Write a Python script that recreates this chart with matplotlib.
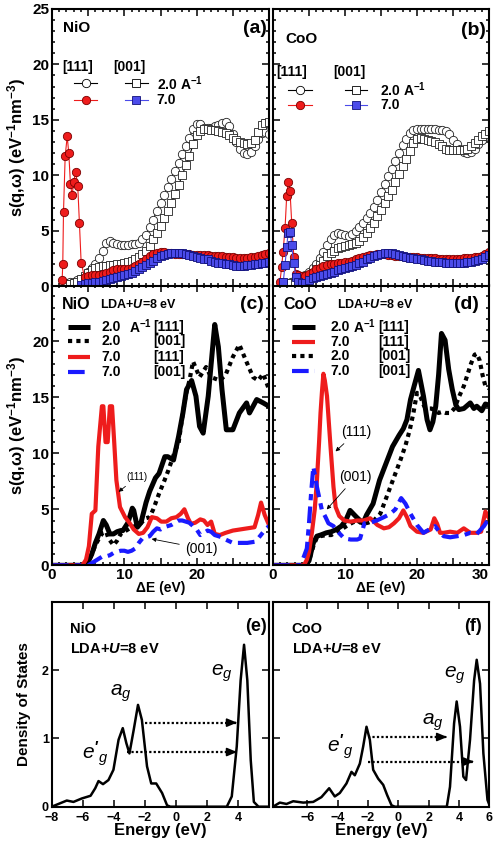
import numpy as np
import matplotlib
matplotlib.use("Agg")
import matplotlib.pyplot as plt
from matplotlib.ticker import MultipleLocator, FuncFormatter

plt.rcParams['font.family'] = ['Liberation Sans', 'DejaVu Sans']
plt.rcParams['font.weight'] = 'bold'
plt.rcParams['axes.labelweight'] = 'bold'
plt.rcParams['mathtext.fontset'] = 'custom'
plt.rcParams['mathtext.rm'] = 'Liberation Sans:bold'
plt.rcParams['mathtext.bf'] = 'Liberation Sans:bold'
plt.rcParams['mathtext.it'] = 'Liberation Sans:italic:normal'
plt.rcParams['mathtext.bfit'] = 'Liberation Sans:italic:bold'
plt.rcParams['axes.linewidth'] = 1.5

RED = '#ee1c1c'
BLUE = '#1a1aff'
MBLUE = '#4b4bea'

# ---------------------------------------------------
# measured spectra (eV, eV^-1 nm^-3)
# ---------------------------------------------------
nio_e2 = np.arange(1.5, 30.01, 0.5)
nio_111_q2 = [0.2, 0.3, 0.4, 0.4, 0.5, 0.6, 0.9, 1.3, 1.6, 2.0,
              2.5, 3.2, 3.9, 4.1, 3.9, 3.8, 3.7, 3.7, 3.7, 3.8,
              3.8, 3.9, 4.2, 4.6, 5.3, 6.0, 6.8, 7.5, 8.2, 8.9,
              9.7, 10.4, 11.1, 11.9, 12.6, 13.4, 14.2, 14.6, 14.6, 14.3,
              14.3, 14.3, 14.4, 14.5, 14.7, 14.8, 14.4, 13.7, 13.0, 12.4,
              12.0, 11.9, 12.1, 12.6, 13.3, 13.8, 13.9, 13.7]
nio_001_q2 = [0.1, 0.15, 0.2, 0.3, 0.4, 0.6, 0.9, 1.2, 1.4, 1.6,
              1.7, 1.8, 1.8, 1.9, 1.9, 2.0, 2.0, 2.1, 2.2, 2.3,
              2.4, 2.6, 2.9, 3.2, 3.6, 4.2, 4.8, 5.4, 6.1, 6.8,
              7.5, 8.3, 9.1, 10.0, 10.9, 11.7, 12.8, 13.6, 14.0, 14.2,
              14.2, 14.1, 14.1, 14.0, 13.9, 13.8, 13.6, 13.4, 13.2, 13.0,
              12.9, 12.8, 12.9, 13.2, 13.9, 14.5, 14.7, 14.8]
nio_111_q7_e = [1.4, 1.49, 1.59, 1.82, 2.1, 2.32, 2.55, 2.79, 3.0, 3.28,
                3.56, 3.79, 4.03] + list(np.arange(4.5, 30.01, 0.5))
nio_111_q7 = [0.5, 2.0, 6.7, 11.7, 13.5, 12.0, 9.2, 8.2, 9.4, 10.3,
              9.0, 5.7, 2.1,
              0.8, 0.9, 1.0, 1.0, 1.0, 1.1, 1.2, 1.3, 1.4, 1.5,
              1.5, 1.5, 1.5, 1.6, 1.8, 2.0, 2.2, 2.4, 2.7, 2.9,
              3.0, 3.1, 3.1, 3.0, 3.0, 2.9, 2.9, 2.9, 2.9, 2.9,
              2.8, 2.8, 2.8, 2.8, 2.8, 2.7, 2.7, 2.7, 2.7, 2.6,
              2.6, 2.6, 2.5, 2.5, 2.5, 2.5, 2.6, 2.6, 2.7, 2.8,
              2.9, 3.0]
nio_001_q7_e = np.arange(4.0, 30.01, 0.5)
nio_001_q7 = [0.1, 0.2, 0.3, 0.3, 0.35, 0.4, 0.45, 0.5, 0.6, 0.7,
              0.8, 0.9, 1.0, 1.1, 1.2, 1.35, 1.5, 1.7, 1.9, 2.1,
              2.3, 2.5, 2.7, 2.8, 2.9, 2.95, 3.0, 3.0, 2.95, 2.9,
              2.8, 2.7, 2.6, 2.5, 2.45, 2.4, 2.3, 2.2, 2.1, 2.05,
              2.0, 1.95, 1.9, 1.85, 1.85, 1.85, 1.9, 1.9, 1.95, 2.0,
              2.05, 2.1, 2.15]

coo_e2 = np.arange(2.0, 30.01, 0.5)
coo_111_q2 = [0.3, 0.4, 0.5, 0.6, 0.8, 1.0, 1.3, 1.6, 2.0, 2.5,
              3.1, 3.7, 4.2, 4.6, 4.8, 4.7, 4.6, 4.5, 4.7, 5.0,
              5.3, 5.7, 6.1, 6.6, 7.1, 7.8, 8.5, 9.2, 9.9, 10.6,
              11.3, 12.0, 12.7, 13.3, 13.8, 14.1, 14.2, 14.2, 14.2, 14.2,
              14.2, 14.2, 14.1, 14.1, 14.0, 13.7, 13.2, 12.8, 12.4, 12.1,
              12.0, 12.1, 12.4, 12.8, 13.2, 13.5, 13.9]
coo_001_q2 = [0.2, 0.3, 0.3, 0.4, 0.5, 0.7, 0.9, 1.2, 1.5, 1.9,
              2.3, 2.7, 3.0, 3.2, 3.4, 3.5, 3.6, 3.7, 3.8, 3.9,
              4.1, 4.4, 4.8, 5.2, 5.7, 6.3, 6.9, 7.5, 8.1, 8.7,
              9.4, 10.1, 10.8, 11.5, 12.2, 12.9, 13.3, 13.4, 13.3, 13.2,
              13.1, 13.0, 12.8, 12.6, 12.4, 12.3, 12.3, 12.3, 12.3, 12.3,
              12.4, 12.6, 12.9, 13.2, 13.5, 13.7, 14.0]
coo_111_q7_e = [0.97, 1.2, 1.4, 1.67, 1.9, 2.1, 2.36, 2.6, 2.9, 3.2] + \
    list(np.arange(3.5, 30.01, 0.5))
coo_111_q7 = [0.4, 1.7, 3.1, 5.2, 8.1, 9.4, 8.6, 5.7, 2.6, 1.1,
              1.0, 0.9, 0.9, 1.1, 1.3, 1.5, 1.6, 1.8, 1.9, 2.0,
              2.0, 2.1, 2.1, 2.2, 2.2, 2.3, 2.4, 2.5, 2.6, 2.7,
              2.8, 2.8, 2.9, 2.9, 2.9, 2.8, 2.8, 2.7, 2.7, 2.7,
              2.6, 2.6, 2.6, 2.6, 2.5, 2.5, 2.5, 2.5, 2.5, 2.4,
              2.4, 2.4, 2.4, 2.4, 2.4, 2.4, 2.5, 2.5, 2.5, 2.6,
              2.6, 2.7, 2.9, 3.1]
coo_001_q7_e = [1.43, 1.67, 1.9, 2.1, 2.4, 2.6, 2.85, 3.2] + \
    list(np.arange(3.5, 30.01, 0.5))
coo_001_q7 = [0.4, 1.9, 3.5, 4.8, 4.9, 3.7, 2.1, 0.8,
              0.4, 0.3, 0.3, 0.5, 0.7, 0.8, 0.9, 1.0, 1.1, 1.2,
              1.3, 1.4, 1.5, 1.6, 1.7, 1.8, 1.9, 2.1, 2.2, 2.4,
              2.5, 2.7, 2.8, 2.9, 2.95, 3.0, 2.95, 2.9, 2.8, 2.7,
              2.6, 2.55, 2.5, 2.45, 2.4, 2.35, 2.3, 2.25, 2.2, 2.2,
              2.15, 2.1, 2.1, 2.05, 2.05, 2.05, 2.1, 2.15, 2.2, 2.3,
              2.35, 2.45, 2.6, 2.8]

# ---------------------------------------------------
# LDA+U spectra
# ---------------------------------------------------
nio_t2_111_e = [0, 4.5, 5.0, 5.5, 6.0, 6.5, 7.1, 7.5, 8.0, 8.5, 9.0, 9.5, 9.8, 10.5,
                11.1, 11.3, 11.8, 12.3, 13.0, 13.5, 14.3, 14.8, 15.6, 16.0, 16.8,
                17.5, 18.1, 18.6, 19.3, 19.9, 20.4, 20.9, 21.6, 22.3, 22.5, 23.0,
                23.5, 24.1, 25.0, 25.9, 26.9, 27.3, 28.3, 29.2, 30.0]
nio_t2_111 = [0, 0, 0.3, 1.0, 2.0, 2.8, 4.0, 3.6, 2.8, 2.8, 3.0, 3.1, 3.1, 3.8,
              5.1, 4.9, 3.4, 3.8, 5.6, 6.6, 7.8, 8.2, 9.7, 9.7, 9.4,
              11.5, 13.6, 15.7, 16.5, 15.1, 12.4, 11.8, 15.1, 20.1, 21.5, 19.5,
              15.7, 12.1, 12.1, 13.6, 14.5, 13.6, 14.8, 14.5, 14.2]
nio_t2_001_e = [0, 4.5, 5, 5.5, 6, 6.5, 7, 7.5, 7.8, 8.5, 9, 9.5, 10, 11, 12, 12.5,
                13, 13.5, 14, 14.8, 15.5, 16.1, 17, 17.5, 18, 18.5, 19, 19.5, 20.4,
                21.3, 22.0, 23.2, 24.0, 25.0, 25.9, 26.8, 27.8, 28.5, 29.2, 30.0]
nio_t2_001 = [0, 0, 0.3, 1.0, 1.8, 2.4, 2.9, 3.0, 2.4, 1.8, 2.2, 2.8, 3.0, 3.4, 3.6,
              3.9, 4.2, 4.3, 5.0, 6.4, 7.5, 8.5, 10.2, 10.9, 13.2, 15.2, 16.5, 18.2,
              16.8, 17.7, 16.8, 16.5, 17.0, 18.6, 19.7, 18.3, 16.8, 16.5, 17.1, 15.7]
nio_t7_111_e = [0, 4.2, 4.7, 5.1, 5.5, 6.0, 6.4, 6.9, 7.1, 7.4, 7.7, 8.0, 8.3, 8.6,
                8.9, 9.4, 10.1, 10.7, 11.3, 12.0, 12.6, 13.2, 13.8, 14.5, 15.1, 15.8,
                16.5, 17.2, 17.8, 18.3, 18.8, 19.2, 19.8, 20.5, 21.0, 21.5, 22.0,
                22.5, 23.2, 24.0, 25.0, 26.0, 27.0, 28.0, 28.5, 28.9, 29.4, 30.0]
nio_t7_111 = [0, 0, 0.5, 1.7, 4.6, 4.9, 10.6, 14.2, 14.2, 11.0, 11.0, 14.2, 14.2, 11.0,
              7.6, 5.2, 4.3, 3.8, 3.2, 2.8, 2.9, 3.4, 4.3, 4.2, 3.9, 3.9,
              4.2, 4.3, 4.6, 5.0, 4.2, 3.7, 3.8, 4.1, 4.0, 3.6, 3.9,
              2.8, 2.7, 2.9, 3.1, 3.2, 3.3, 3.4, 4.5, 5.6, 4.5, 3.6]
nio_t7_001_e = [0, 5.0, 5.5, 6.0, 6.5, 7.0, 7.5, 8.0, 8.5, 9.0, 9.5, 10.0, 10.5, 11.0,
                11.5, 12.0, 12.5, 13.0, 13.5, 14.0, 14.5, 15.0, 15.5, 16.0, 16.5,
                17.0, 17.5, 18.0, 18.5, 19.0, 19.5, 20.0, 20.5, 21.0, 21.5, 22.0,
                22.5, 23.0, 23.5, 24.0, 25.0, 26.0, 27.0, 28.0, 28.5, 29.0, 29.5, 30.0]
nio_t7_001 = [0, 0, 0.2, 0.4, 0.6, 0.8, 0.8, 0.9, 1.1, 1.2, 1.3, 1.3, 1.2, 1.3,
              1.5, 2.0, 2.4, 2.5, 2.6, 3.0, 3.3, 3.2, 3.4, 3.5, 3.6,
              3.8, 4.0, 4.0, 3.9, 3.8, 3.5, 3.2, 2.7, 2.9, 3.1, 3.0,
              2.7, 2.6, 2.5, 2.3, 2.0, 2.0, 2.0, 2.1, 2.4, 2.8, 3.2, 3.5]

coo_t2_111_e = [0, 4.5, 5.0, 5.6, 6.1, 6.6, 7.4, 8.1, 8.8, 9.5, 10.1, 10.7, 11.6, 12.5,
                13.0, 13.9, 14.8, 15.7, 16.6, 17.5, 18.1, 18.6, 19.1, 19.6, 20.2, 20.9,
                21.4, 21.8, 22.2, 22.6, 23.0, 23.4, 23.9, 24.4, 24.9, 25.4, 25.8, 26.5,
                27.4, 27.9, 28.3, 29.0, 29.5, 30.0]
coo_t2_111 = [0, 0, 0.4, 2.0, 2.6, 2.7, 2.9, 3.0, 3.2, 3.5, 4.0, 4.9, 4.3, 3.75,
              4.5, 5.5, 7.6, 9.1, 10.6, 11.6, 12.2, 13.0, 14.8, 16.0, 17.4, 15.1,
              13.0, 12.1, 12.8, 14.2, 17.0, 20.7, 20.1, 17.5, 15.7, 14.3, 13.9, 14.0,
              14.5, 14.0, 14.2, 13.8, 14.4, 14.3]
coo_t2_001_e = [0, 4.5, 5.0, 5.6, 6.1, 6.6, 7.4, 8.1, 8.8, 9.5, 10.2, 11.0, 11.7, 12.4,
                13.2, 14.0, 14.9, 15.6, 16.3, 17.0, 17.7, 18.4, 19.0, 19.5, 20.0, 20.5,
                21.0, 21.5, 22.0, 22.5, 23.0, 23.5, 24.0, 24.6, 25.2, 25.8, 26.5, 27.0,
                27.5, 28.0, 28.3, 28.7, 29.1, 29.5, 30.0]
coo_t2_001 = [0, 0, 0.4, 1.7, 2.5, 2.6, 2.7, 2.7, 3.0, 3.2, 3.5, 3.8, 4.0, 3.7,
              3.8, 4.0, 4.6, 5.8, 7.0, 8.2, 9.4, 10.7, 12.1, 13.6, 15.4, 15.0,
              14.2, 14.0, 14.0, 13.8, 13.6, 13.7, 13.6, 13.6, 14.0, 15.0, 16.0, 17.0,
              18.0, 18.8, 18.9, 18.3, 17.0, 16.0, 15.8]
coo_t7_111_e = [0, 4.3, 4.7, 5.0, 5.4, 5.8, 6.1, 6.4, 6.6, 6.8, 7.0, 7.2, 7.5, 8.0,
                8.4, 8.7, 9.2, 9.9, 10.8, 11.7, 12.6, 13.5, 14.5, 15.4, 16.1, 16.8,
                17.5, 18.1, 18.6, 19.1, 20.0, 20.9, 21.9, 22.4, 22.8, 23.2, 23.7,
                24.6, 25.6, 26.5, 27.4, 28.3, 28.9, 29.5, 30.0]
coo_t7_111 = [0, 0, 0.5, 1.2, 2.9, 5.0, 7.6, 11.0, 13.6, 15.5, 17.1, 16.5, 15.1, 10.5,
              7.0, 5.2, 4.4, 4.0, 3.9, 4.0, 4.0, 4.2, 3.6, 3.3, 3.4, 3.75,
              4.2, 4.9, 4.3, 3.5, 3.0, 2.9, 3.2, 4.2, 3.7, 2.9, 2.9,
              3.0, 2.9, 3.3, 2.9, 2.9, 3.0, 4.8, 4.2]
coo_t7_001_e = [0, 3.8, 4.3, 4.7, 5.0, 5.3, 5.6, 5.9, 6.1, 6.5, 6.8, 7.3, 7.7, 8.4,
                9.0, 9.9, 10.8, 11.7, 12.1, 12.7, 13.5, 14.4, 15.4, 16.3, 17.0, 17.8,
                18.4, 19.1, 20.0, 20.9, 21.7, 22.5, 23.1, 23.7, 24.6, 25.6, 26.5,
                27.4, 28.3, 29.3, 30.0]
coo_t7_001 = [0, 0, 0.8, 1.5, 3.75, 6.5, 8.8, 7.8, 7.0, 5.8, 4.9, 4.3, 3.75, 3.5,
              3.0, 2.4, 2.3, 2.3, 2.4, 3.75, 3.8, 4.0, 4.3, 4.6, 5.0, 6.0,
              5.5, 4.6, 3.6, 2.9, 3.2, 3.5, 3.0, 2.6, 2.5, 2.6, 2.7,
              2.9, 2.8, 3.5, 4.2]

# ---------------------------------------------------
# density of states (LDA+U = 8 eV)
# ---------------------------------------------------
nio_dos_e = [-8.0, -7.46, -7.03, -6.6, -6.07, -5.5, -5.2, -4.99, -4.7, -4.35, -4.03,
             -3.7, -3.43, -3.2, -3.0, -2.73, -2.45, -2.2, -1.87, -1.6, -1.28, -0.9,
             -0.58, -0.37, 3.26, 3.58, 3.9, 4.15, 4.37, 4.58, 4.8, 5.0, 5.3, 6.0]
nio_dos = [0.0, 0.05, 0.09, 0.07, 0.12, 0.16, 0.27, 0.375, 0.33, 0.39, 0.54,
           0.98, 1.15, 0.93, 0.78, 1.12, 1.49, 1.27, 0.59, 0.34, 0.34, 0.2,
           0.02, 0.0, 0.0, 0.15, 0.88, 1.85, 2.37, 1.85, 0.68, 0.07, 0.0, 0.0]
coo_dos_e = [-8.25, -7.8, -7.36, -6.92, -6.26, -5.6, -5.06, -4.55, -4.18, -3.85,
             -3.41, -3.08, -2.86, -2.53, -2.31, -2.09, -1.87, -1.65, -1.32, -0.99,
             -0.73, -0.44, -0.22, 3.2, 3.41, 3.68, 3.85, 4.07, 4.29, 4.47, 4.73,
             5.0, 5.17, 5.39, 5.61, 5.88, 6.05]
coo_dos = [0.0, 0.06, 0.04, 0.08, 0.06, 0.07, 0.14, 0.27, 0.15, 0.2,
           0.34, 0.51, 0.46, 0.63, 0.88, 1.17, 0.98, 0.54, 0.41, 0.32,
           0.17, 0.02, 0.0, 0.0, 0.29, 1.22, 1.54, 1.17, 0.44, 0.39, 0.98,
           1.85, 2.15, 1.8, 0.78, 0.1, 0.0]

# transitions: (level, start energy, end energy)
nio_arrows = [(1.23, -1.98, 4.1), (0.80, -3.17, 4.1)]
coo_arrows = [(1.02, -1.98, 3.41), (0.66, -1.98, 5.17)]

W, H = 495, 846


def rect(x0, x1, y0, y1):
    return [x0 / W, 1 - y1 / H, (x1 - x0) / W, (y1 - y0) / H]


def style_spectrum(ax, ylab, xlab, xlabels=(0, 10, 20)):
    ax.set_xlim(0, 30)
    ax.set_ylim(0, 25)
    ax.xaxis.set_major_locator(MultipleLocator(5))
    ax.xaxis.set_minor_locator(MultipleLocator(1))
    ax.yaxis.set_major_locator(MultipleLocator(5))
    ax.yaxis.set_minor_locator(MultipleLocator(1))
    ax.tick_params(which='both', direction='in', top=True, right=True, width=1.1)
    ax.tick_params(which='major', length=5, labelsize=11, pad=2)
    ax.tick_params(which='minor', length=2.5)
    ax.tick_params(axis='y', labelleft=ylab)
    ax.tick_params(axis='x', labelbottom=xlab)
    ax.xaxis.set_major_formatter(
        FuncFormatter(lambda v, p: f"{v:.0f}" if round(v) in xlabels else ""))


def style_dos(ax, xlim, xticks, ylab):
    ax.set_xlim(*xlim)
    ax.set_ylim(0, 3)
    ax.set_xticks(xticks)
    ax.set_yticks([0, 1, 2])
    ax.tick_params(direction='in', top=True, right=True, length=5, width=1.1,
                   labelsize=9, pad=2)
    ax.tick_params(axis='x', pad=4)
    ax.tick_params(axis='y', labelleft=ylab)
    ax.set_xlabel('Energy (eV)', fontsize=12, labelpad=-1)


def plot_exp(ax, x, y, marker, face, edge, line, ms):
    ax.plot(x, y, color=line, lw=0.8, marker=marker, ms=ms,
            mfc=face, mec=edge, mew=0.6)


def exp_legend(ax, xs_c, xs_s, xm_c, xm_s, ytxt, yr1, yr2, xtxt, xhead):
    t = ax.transAxes
    ax.text(xs_c[0] - 0.055, ytxt, '[111]', transform=t, fontsize=10, va='center')
    ax.text(xhead, ytxt, '[001]', transform=t, fontsize=10, va='center')
    ax.plot(xs_c, [yr1, yr1], color='k', lw=0.8, transform=t)
    ax.plot([xm_c], [yr1], 'o', ms=6, mfc='white', mec='k', mew=0.6, transform=t)
    ax.plot(xs_s, [yr1, yr1], color='k', lw=0.8, transform=t)
    ax.plot([xm_s], [yr1], 's', ms=5.5, mfc='white', mec='k', mew=0.6, transform=t)
    ax.plot(xs_c, [yr2, yr2], color=RED, lw=0.8, transform=t)
    ax.plot([xm_c], [yr2], 'o', ms=6, mfc=RED, mec='#7a0000', mew=0.6, transform=t)
    ax.plot(xs_s, [yr2, yr2], color=MBLUE, lw=0.8, transform=t)
    ax.plot([xm_s], [yr2], 's', ms=5.5, mfc=MBLUE, mec='#10107a', mew=0.6, transform=t)
    ax.text(xtxt, yr1, '2.0 A$^{-1}$', transform=t, fontsize=10, va='center')
    ax.text(xtxt, yr2, '7.0', transform=t, fontsize=10, va='center')


STYLES = {
    'k_solid': dict(color='k', lw=3.6, ls='-'),
    'k_dot': dict(color='k', lw=3.0, ls=(0, (1, 1))),
    'r_solid': dict(color=RED, lw=3.0, ls='-'),
    'b_dash': dict(color=BLUE, lw=3.0, ls=(0, (4, 1.5, 1.5, 1.5))),
}


def theory_legend(ax, rows, xl, cols, ys):
    t = ax.transAxes
    for (sty, q, unit, d), y in zip(rows, ys):
        ax.plot(xl, [y, y], transform=t, solid_capstyle='butt',
                dash_capstyle='butt', **STYLES[sty])
        ax.text(cols[0], y, q, transform=t, fontsize=10, va='center')
        if unit:
            ax.text(cols[1], y, unit, transform=t, fontsize=10, va='center')
        ax.text(cols[2], y, d, transform=t, fontsize=10, va='center')


fig = plt.figure(figsize=(W / 100, H / 100), dpi=100)

ax_c = fig.add_axes(rect(52, 269, 285.3, 565.3))
ax_d = fig.add_axes(rect(273, 489, 285.3, 565.3))
ax_a = fig.add_axes(rect(52, 269, 9, 286))
ax_b = fig.add_axes(rect(273, 489, 9, 286))
ax_e = fig.add_axes(rect(51.7, 269.4, 601.7, 806.7))
ax_f = fig.add_axes(rect(273, 489.3, 601.7, 806.7))

# ---- (a) NiO experiment
plot_exp(ax_a, nio_e2, nio_111_q2, 'o', 'white', '#222222', 'k', 6)
plot_exp(ax_a, nio_e2, nio_001_q2, 's', 'white', '#222222', 'k', 5.5)
plot_exp(ax_a, nio_111_q7_e, nio_111_q7, 'o', RED, '#7a0000', RED, 6)
plot_exp(ax_a, nio_001_q7_e, nio_001_q7, 's', MBLUE, '#10107a', MBLUE, 5.5)
style_spectrum(ax_a, True, False)
ax_a.set_ylabel('s(q,ω) (eV$^{-1}$nm$^{-3}$)', fontsize=12, labelpad=3)
ax_a.text(0.052, 0.93, 'NiO', transform=ax_a.transAxes, fontsize=11, va='center')
ax_a.text(0.99, 0.93, '(a)', transform=ax_a.transAxes, fontsize=14,
          va='center', ha='right')
exp_legend(ax_a, [0.101, 0.206], [0.336, 0.444], 0.157, 0.388,
           0.789, 0.732, 0.671, 0.482, 0.283)

# ---- (b) CoO experiment
plot_exp(ax_b, coo_e2, coo_111_q2, 'o', 'white', '#222222', 'k', 6)
plot_exp(ax_b, coo_e2, coo_001_q2, 's', 'white', '#222222', 'k', 5.5)
plot_exp(ax_b, coo_111_q7_e, coo_111_q7, 'o', RED, '#7a0000', RED, 6)
plot_exp(ax_b, coo_001_q7_e, coo_001_q7, 's', MBLUE, '#10107a', MBLUE, 5.5)
style_spectrum(ax_b, False, False)
ax_b.text(0.056, 0.893, 'CoO', transform=ax_b.transAxes, fontsize=11, va='center')
ax_b.text(0.985, 0.924, '(b)', transform=ax_b.transAxes, fontsize=14,
          va='center', ha='right')
exp_legend(ax_b, [0.071, 0.179], [0.333, 0.434], 0.125, 0.384,
           0.774, 0.708, 0.653, 0.495, 0.279)

# ---- (c) NiO LDA+U
ax_c.plot(nio_t2_111_e, nio_t2_111, **STYLES['k_solid'])
ax_c.plot(nio_t2_001_e, nio_t2_001, **STYLES['k_dot'])
ax_c.plot(nio_t7_111_e, nio_t7_111, **STYLES['r_solid'])
ax_c.plot(nio_t7_001_e, nio_t7_001, **STYLES['b_dash'])
style_spectrum(ax_c, True, True)
ax_c.set_yticks([0, 5, 10, 15, 20])
ax_c.set_ylabel('s(q,ω) (eV$^{-1}$nm$^{-3}$)', fontsize=12, labelpad=3)
ax_c.set_xlabel('ΔE (eV)', fontsize=10, labelpad=-1)
ax_c.text(0.045, 0.93, 'NiO', transform=ax_c.transAxes, fontsize=11.5, va='center')
ax_c.text(0.221, 0.93, r'LDA+$\mathbfit{U}$=8 eV', transform=ax_c.transAxes,
          fontsize=9, va='center')
ax_c.text(0.975, 0.93, '(c)', transform=ax_c.transAxes, fontsize=14,
          va='center', ha='right')
theory_legend(ax_c,
              [('k_solid', '2.0', 'A$^{-1}$', '[111]'),
               ('k_dot', '2.0', '', '[001]'),
               ('r_solid', '7.0', '', '[111]'),
               ('b_dash', '7.0', '', '[001]')],
              [0.075, 0.175], [0.229, 0.356, 0.467],
              [0.852, 0.801, 0.743, 0.691])
ax_c.annotate('(111)', xy=(8.9, 6.4), xytext=(11.8, 7.9), fontsize=7,
              fontweight='normal', ha='center', va='center',
              arrowprops=dict(arrowstyle='-|>', lw=0.6, color='k',
                              mutation_scale=6))
ax_c.annotate('(001)', xy=(13.4, 2.4), xytext=(20.6, 1.5), fontsize=10,
              fontweight='normal', ha='center', va='center',
              arrowprops=dict(arrowstyle='-|>', lw=0.6, color='k',
                              mutation_scale=6))

# ---- (d) CoO LDA+U
ax_d.plot(coo_t2_111_e, coo_t2_111, **STYLES['k_solid'])
ax_d.plot(coo_t2_001_e, coo_t2_001, **STYLES['k_dot'])
ax_d.plot(coo_t7_111_e, coo_t7_111, **STYLES['r_solid'])
ax_d.plot(coo_t7_001_e, coo_t7_001, **STYLES['b_dash'])
style_spectrum(ax_d, False, True)
# last energy label sits flush with the right edge
ax_d.text(1.0, -0.01, '30', transform=ax_d.transAxes, fontsize=11,
          ha='right', va='top')
ax_d.set_xlabel('ΔE (eV)', fontsize=10, labelpad=-1)
ax_d.text(0.048, 0.93, 'CoO', transform=ax_d.transAxes, fontsize=11.5, va='center')
ax_d.text(0.298, 0.93, r'LDA+$\mathbfit{U}$=8 eV', transform=ax_d.transAxes,
          fontsize=9, va='center')
ax_d.text(0.955, 0.93, '(d)', transform=ax_d.transAxes, fontsize=14,
          va='center', ha='right')
theory_legend(ax_d,
              [('k_solid', '2.0', 'A$^{-1}$', '[111]'),
               ('r_solid', '7.0', '', '[111]'),
               ('k_dot', '2.0', '', '[001]'),
               ('b_dash', '7.0', '', '[001]')],
              [0.087, 0.194], [0.264, 0.369, 0.488],
              [0.852, 0.799, 0.748, 0.695])
ax_d.annotate('(111)', xy=(8.4, 10.0), xytext=(11.6, 11.9), fontsize=10,
              fontweight='normal', ha='center', va='center',
              arrowprops=dict(arrowstyle='-|>', lw=0.6, color='k',
                              mutation_scale=6))
ax_d.annotate('(001)', xy=(7.2, 4.8), xytext=(11.5, 7.9), fontsize=10,
              fontweight='normal', ha='center', va='center',
              arrowprops=dict(arrowstyle='-|>', lw=0.6, color='k',
                              mutation_scale=6))


def draw_transitions(ax, arrows):
    for y, x0, x1 in arrows:
        ax.plot([x0, x1 - 0.2], [y, y], color='k', lw=1.6, ls=(0, (1, 1)))
        ax.annotate('', xy=(x1, y), xytext=(x1 - 0.5, y),
                    arrowprops=dict(arrowstyle='-|>,head_length=0.6,head_width=0.25',
                                    color='k', lw=1.2, mutation_scale=10))


# ---- (e) NiO DOS
ax_e.plot(nio_dos_e, nio_dos, color='k', lw=1.8)
draw_transitions(ax_e, nio_arrows)
style_dos(ax_e, (-8, 6), [-8, -6, -4, -2, 0, 2, 4], True)
ax_e.set_ylabel('Density of States', fontsize=11, labelpad=8)
ax_e.text(0.084, 0.867, 'NiO', transform=ax_e.transAxes, fontsize=10.5, va='center')
ax_e.text(0.084, 0.77, r'LDA+$\mathbfit{U}$=8 eV', transform=ax_e.transAxes,
          fontsize=10.5, va='center')
ax_e.text(0.99, 0.877, '(e)', transform=ax_e.transAxes, fontsize=13,
          va='center', ha='right')
ax_e.text(2.93, 1.95, r'$e_g$', fontsize=15, ha='center', va='center')
ax_e.text(-3.57, 1.66, r'$a_g$', fontsize=15, ha='center', va='center')
ax_e.text(-5.2, 0.78, r"$e'_g$", fontsize=15, ha='center', va='center')

# ---- (f) CoO DOS
ax_f.plot(coo_dos_e, coo_dos, color='k', lw=1.8)
draw_transitions(ax_f, coo_arrows)
style_dos(ax_f, (-8.25, 6), [-6, -4, -2, 0, 2, 4, 6], False)
ax_f.text(0.086, 0.867, 'CoO', transform=ax_f.transAxes, fontsize=10.5, va='center')
ax_f.text(0.086, 0.77, r'LDA+$\mathbfit{U}$=8 eV', transform=ax_f.transAxes,
          fontsize=10.5, va='center')
ax_f.text(0.965, 0.877, '(f)', transform=ax_f.transAxes, fontsize=13,
          va='center', ha='right')
ax_f.text(3.74, 1.93, r'$e_g$', fontsize=15, ha='center', va='center')
ax_f.text(2.31, 1.24, r'$a_g$', fontsize=15, ha='center', va='center')
ax_f.text(-3.84, 0.88, r"$e'_g$", fontsize=15, ha='center', va='center')

# bold tick labels everywhere
for ax in (ax_a, ax_b, ax_c, ax_d, ax_e, ax_f):
    for lab in ax.get_xticklabels() + ax.get_yticklabels():
        lab.set_fontweight('bold')

fig.savefig('out.png', dpi=100)
